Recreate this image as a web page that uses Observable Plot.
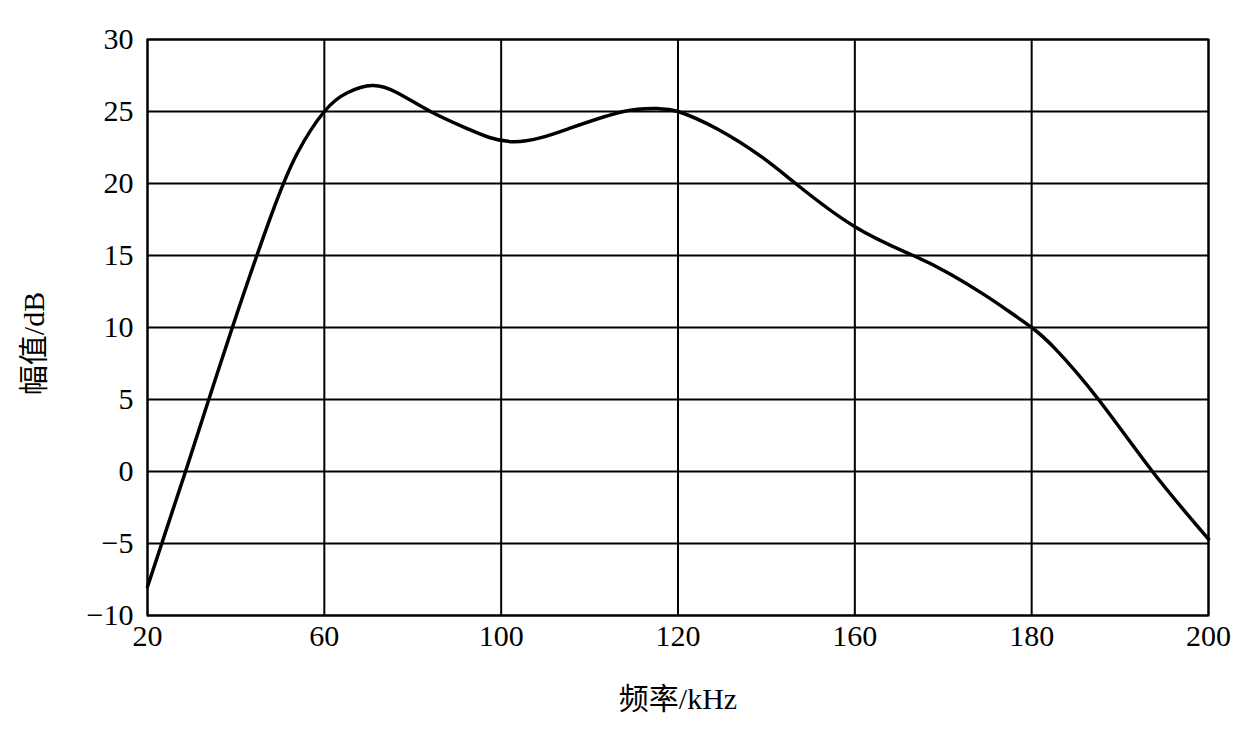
<!DOCTYPE html>
<html>
<head>
<meta charset="utf-8">
<script src="https://cdn.jsdelivr.net/npm/d3@7"></script>
<script src="https://cdn.jsdelivr.net/npm/@observablehq/plot@0.6"></script>
<style>
  html, body { margin: 0; padding: 0; background: #fff; }
</style>
</head>
<body>
<div id="chart"></div>
<script>
// x positions are axis slots (0..6); the axis labels below are printed at equal spacing
const xTickPos = [0, 1, 2, 3, 4, 5, 6];
const xTickLabels = ["20", "60", "100", "120", "160", "180", "200"];
const yTicks = [-10, -5, 0, 5, 10, 15, 20, 25, 30];

const curveX = [0, 0.215, 0.469, 0.70, 0.847, 1.0, 1.13, 1.271, 1.412, 1.6, 1.81, 2.07, 2.38, 2.692, 2.884, 3.0, 3.22, 3.467, 3.665, 4.0, 4.33, 4.541, 4.729, 4.862, 5.0, 5.135, 5.378, 5.683, 6.0];
const curveY = [-8.0, 0, 9.6, 17.8, 22.1, 25.0, 26.3, 26.8, 26.3, 25.0, 23.8, 22.9, 23.8, 25.0, 25.2, 25.0, 23.8, 21.9, 20.0, 17.0, 15.0, 13.7, 12.3, 11.2, 10.0, 8.5, 5.0, 0.0, -4.7];

const xTitle = "频率/kHz";
const yTitle = "幅值/dB";

const data = curveX.map((x, i) => ({x, y: curveY[i]}));

const fontFamily = "'Liberation Serif', 'Times New Roman', 'Noto Sans CJK SC', serif";

const chart = Plot.plot({
  width: 1236,
  height: 740,
  marginLeft: 147,
  marginRight: 28,
  marginTop: 39,
  marginBottom: 125,
  style: {fontFamily, fontSize: "30px", color: "black", background: "white"},
  x: {domain: [0, 6]},
  y: {domain: [-10, 30]},
  marks: [
    Plot.ruleX(xTickPos, {stroke: "black", strokeWidth: 2}),
    Plot.ruleY(yTicks, {stroke: "black", strokeWidth: 2}),
    Plot.frame({stroke: "black", strokeWidth: 2}),
    Plot.axisX({ticks: xTickPos, tickSize: 0, tickPadding: 9, tickFormat: i => xTickLabels[i], label: null, fontSize: 30, fill: "black"}),
    Plot.axisY({ticks: yTicks, tickSize: 0, tickPadding: 14, tickFormat: d => d < 0 ? "\u2212" + (-d) : String(d), label: null, fontSize: 30, fill: "black"}),
    Plot.line(data, {x: "x", y: "y", stroke: "black", strokeWidth: 3.5, curve: "natural"}),
    Plot.text([xTitle], {text: d => d, frameAnchor: "bottom", lineAnchor: "middle", textAnchor: "middle", dy: 84, fontSize: 30, fill: "black"}),
    Plot.text([yTitle], {text: d => d, frameAnchor: "left", lineAnchor: "middle", textAnchor: "middle", dx: -113, dy: 16, rotate: -90, fontSize: 30, fill: "black"})
  ]
});
document.getElementById("chart").appendChild(chart);
</script>
</body>
</html>
